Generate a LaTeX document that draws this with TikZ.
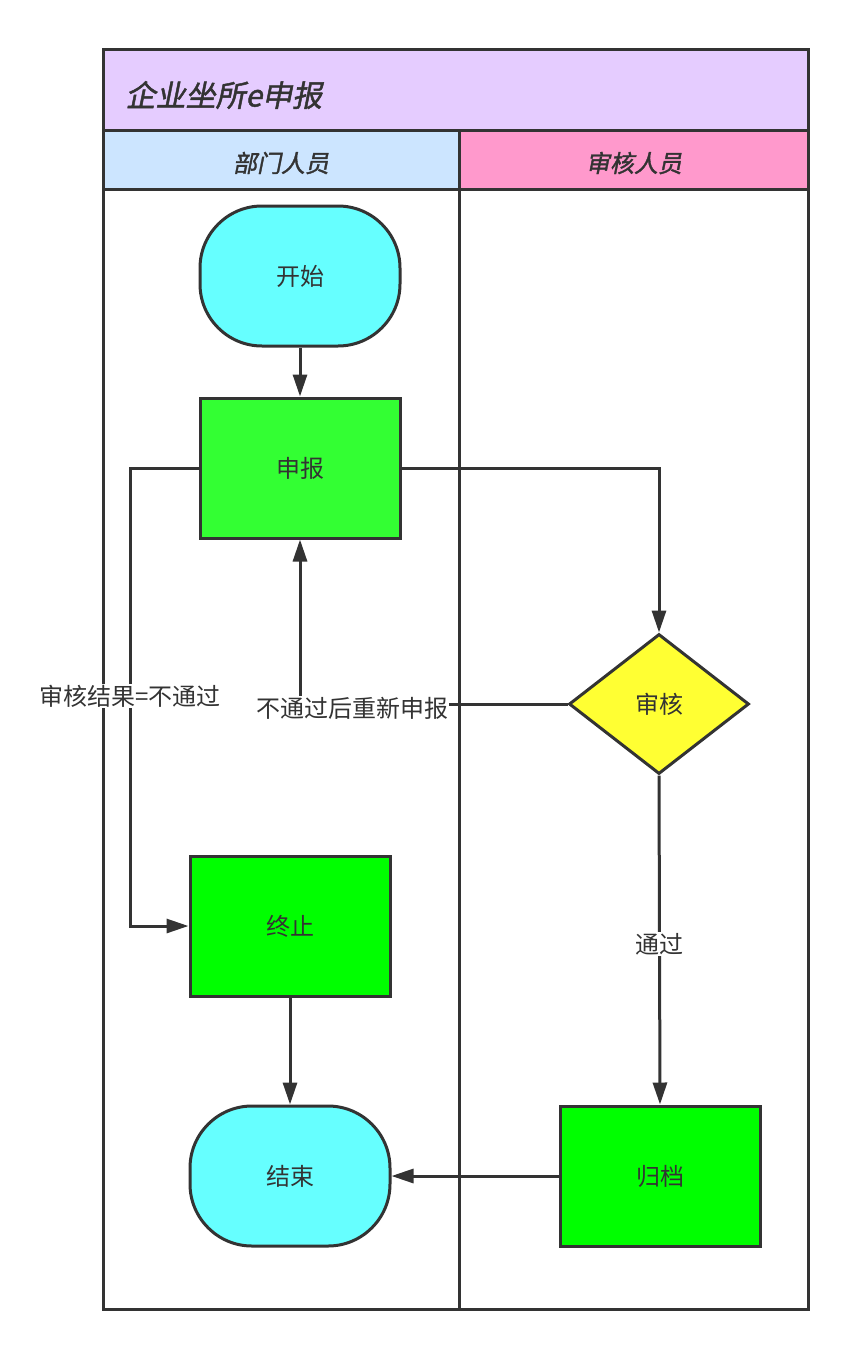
\documentclass[tikz,border=0pt]{standalone}
\usepackage{fontspec}
\setmainfont{Noto Sans CJK SC}
\newfontfamily\cjkbi[FakeSlant=0.2,FakeBold=1.5]{Noto Sans CJK SC}
\usetikzlibrary{shapes.geometric,arrows.meta}
\definecolor{ln}{HTML}{333333}
\definecolor{ttl}{HTML}{E5CCFF}
\definecolor{dep}{HTML}{CCE5FF}
\definecolor{rev}{HTML}{FF99CC}
\definecolor{cy}{HTML}{66FFFF}
\definecolor{gr1}{HTML}{33FF33}
\definecolor{gr2}{HTML}{00FF00}
\definecolor{yl}{HTML}{FFFF33}
\begin{document}
\begin{tikzpicture}[x=1pt,y=-1pt,
  box/.style={draw=ln,line width=3pt,minimum width=200pt,minimum height=140pt,inner sep=0pt,font=\fontsize{24}{28}\selectfont,text=ln},
  term/.style={box,rounded corners=62pt},
  arr/.style={draw=ln,line width=3pt,-{Triangle[length=22pt,width=14pt]}},
  lbl/.style={fill=white,inner sep=1pt,font=\fontsize{24}{28}\selectfont,text=ln},
  hd/.style={font=\cjkbi\fontsize{24}{28}\selectfont,text=ln}]
\useasboundingbox (0,0) rectangle (859,1360);
\fill[ttl] (103,49) rectangle (808,130);
\fill[dep] (103,130) rectangle (459,189);
\fill[rev] (459,130) rectangle (808,189);
\draw[ln,line width=3pt] (103,49) rectangle (808,1309);
\draw[ln,line width=3pt] (103,130) -- (808,130) (103,189) -- (808,189) (459,130) -- (459,1309);
\node[hd,anchor=west,font=\cjkbi\fontsize{30}{34}\selectfont] (title) at (122,95) {企业坐所e申报};
\node[hd] (h1) at (281,163) {部门人员};
\node[hd] (h2) at (634,163) {审核人员};
\node[term,fill=cy] (start) at (300,276) {开始};
\node[box,fill=gr1] (sb) at (300,468) {申报};
\node[box,fill=gr2] (zz) at (290,926) {终止};
\node[term,fill=cy] (end) at (290,1176) {结束};
\node[box,fill=gr2] (gd) at (660,1176) {归档};
\node[diamond,draw=ln,line width=3pt,fill=yl,minimum width=180pt,minimum height=140pt,inner sep=0pt,font=\fontsize{24}{28}\selectfont,text=ln,aspect=1.3] (sh) at (659,704) {审核};
\draw[arr] (start) -- (sb);
\draw[arr] (sb.east) -| (sh.north);
\draw[arr] (sb.west) -- (130,468) -- (130,926) -- (zz.west);
\node[lbl] (l1) at (130,696) {审核结果=不通过};
\draw[arr] (sh.west) -| (sb.south);
\node[lbl] (l2) at (352,708) {不通过后重新申报};
\draw[arr] (sh.south) -- (gd.north);
\node[lbl] (l3) at (659,944) {通过};
\draw[arr] (zz) -- (end);
\draw[arr] (gd) -- (end);
\end{tikzpicture}
\end{document}
